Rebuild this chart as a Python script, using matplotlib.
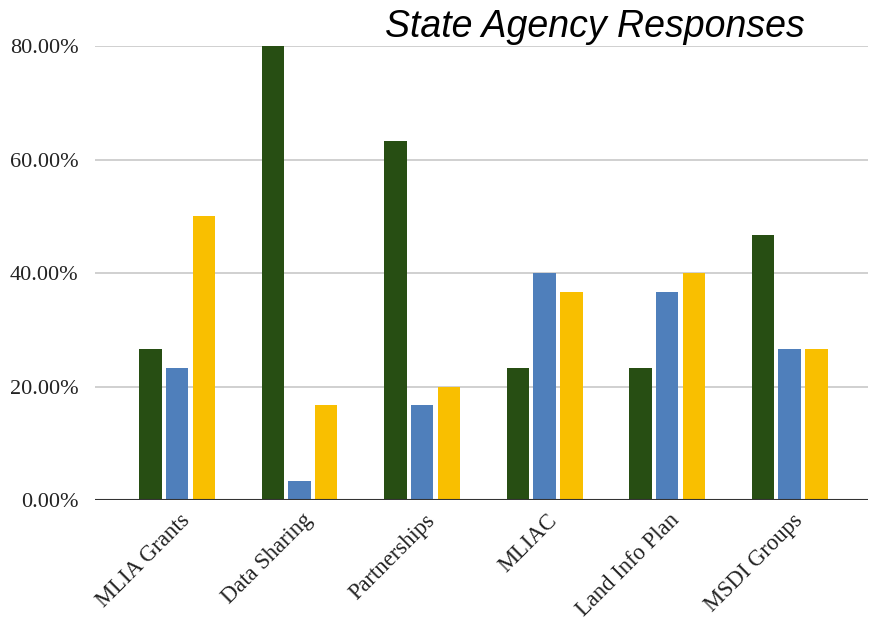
import matplotlib.pyplot as plt
import matplotlib.transforms as mtransforms
import numpy as np
from matplotlib.ticker import FuncFormatter

# %% Data (percent of responses)
categories = ['MLIA Grants', 'Data Sharing', 'Partnerships', 'MLIAC',
              'Land Info Plan', 'MSDI Groups']
series_green = [26.67, 80.00, 63.33, 23.33, 23.33, 46.67]
series_blue = [23.33, 3.33, 16.67, 40.00, 36.67, 26.67]
series_yellow = [50.00, 16.67, 20.00, 36.67, 40.00, 26.67]
y_ticks = [0, 20, 40, 60, 80]

# %% Plot
fig = plt.figure(figsize=(8.75, 6.22), dpi=100)
ax = fig.add_axes([0.1086, 0.196, 0.8834, 0.730])

x = np.arange(len(categories))
w = 0.183
off = 0.218
ax.bar(x - off, series_green, w, color='#274e13', zorder=3)
ax.bar(x, series_blue, w, color='#4f7fbb', zorder=3)
ax.bar(x + off, series_yellow, w, color='#f9bf00', zorder=3)

ax.set_xlim(-0.669, 5.639)
ax.set_ylim(0, 80)
ax.set_yticks(y_ticks)
ax.yaxis.set_major_formatter(FuncFormatter(lambda v, p: f'{v:.2f}%'))
ax.grid(axis='y', color='#c8c8c8', linewidth=1.2, zorder=0)
ax.axhline(0, color='#333333', linewidth=1.5, zorder=4)

for s in ['top', 'right', 'left', 'bottom']:
    ax.spines[s].set_visible(False)

ax.tick_params(axis='both', length=0)
ax.tick_params(axis='y', pad=12)
ax.set_xticks(x)
ax.set_xticklabels(categories, rotation=45, ha='right', va='top',
                   rotation_mode='anchor')
ax.tick_params(axis='x', pad=7)

# nudge x labels a little to the right
shift = mtransforms.ScaledTranslation(1.5 / 72, 0, fig.dpi_scale_trans)
for lbl in ax.get_xticklabels():
    lbl.set_transform(lbl.get_transform() + shift)
    lbl.set_fontsize(16.3)
for lbl in ax.get_yticklabels():
    lbl.set_fontsize(16)
for lbl in ax.get_xticklabels() + ax.get_yticklabels():
    lbl.set_fontfamily('Liberation Serif')
    lbl.set_color('#222222')

fig.text(385 / 875, 1 - 37 / 622, 'State Agency Responses',
         family='Liberation Sans', style='italic', fontsize=27,
         va='baseline', ha='left', color='black')

fig.savefig('out.png', dpi=100)
